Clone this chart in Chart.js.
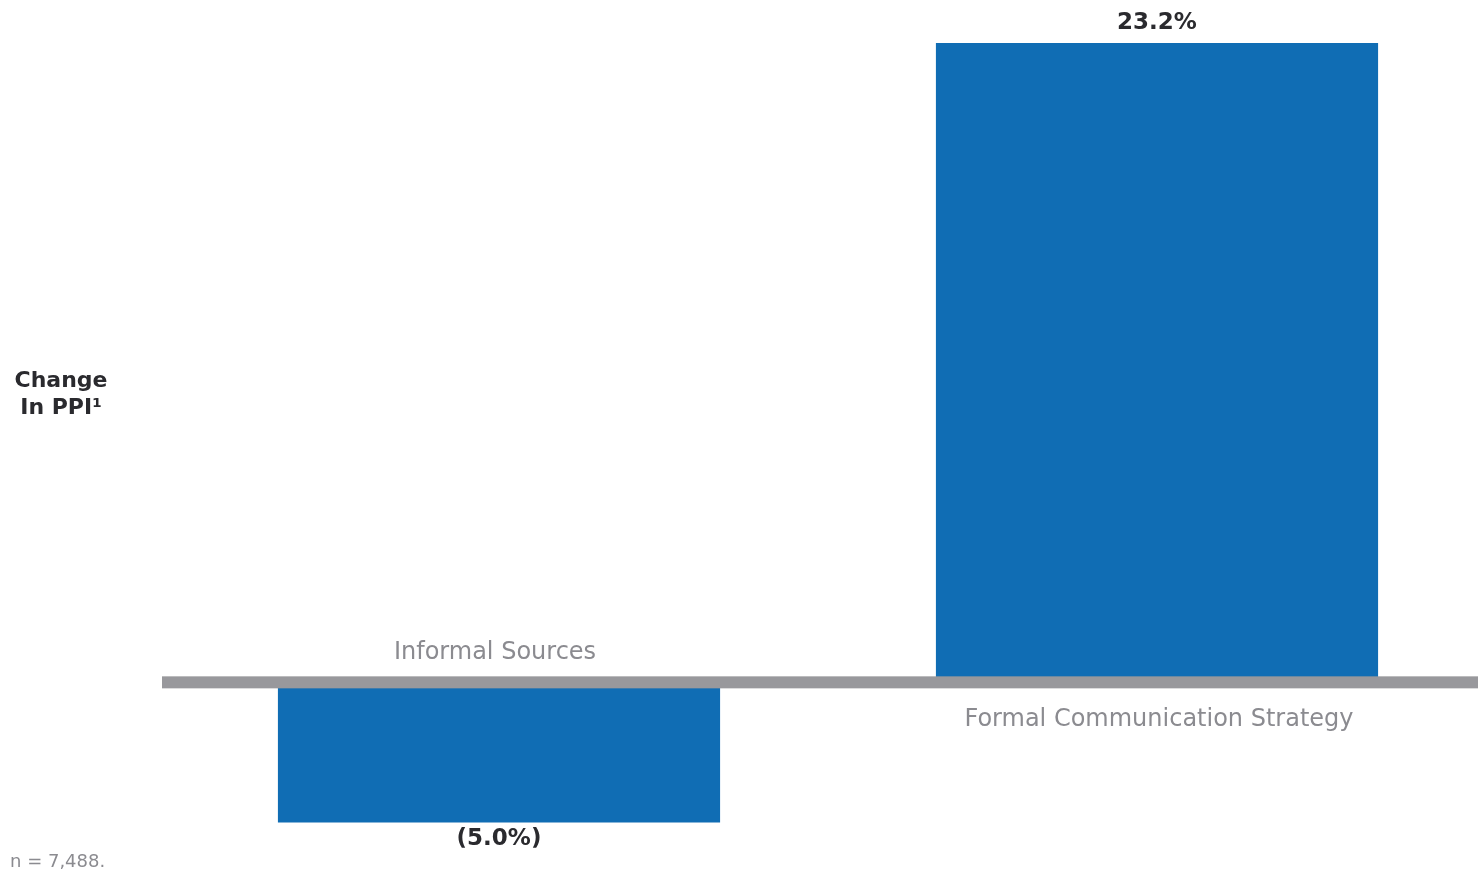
<!DOCTYPE html>
<html>
<head>
<meta charset="utf-8">
<script src="https://cdn.jsdelivr.net/npm/chart.js@4.4.1/dist/chart.umd.min.js"></script>
<style>
  html, body { margin: 0; padding: 0; background: #fff; overflow: hidden; }
  #wrap { position: relative; width: 1478px; height: 871px; overflow: hidden; }
</style>
</head>
<body>
<div id="wrap">
  <canvas id="chart" width="1490" height="871"></canvas>
</div>
<script>
const categories = ['Informal Sources', 'Formal Communication Strategy'];
const changeInPpi = [-5.0, 23.2];
const axisTitle = ['Change', 'In PPI\u00b9'];
const footnote = 'n = 7,488.';

const barColor = '#106db4';
const lineColor = '#98989c';
const catColor = '#8b8b90';

function fmt(v) {
  const s = Math.abs(v).toFixed(1) + '%';
  return v < 0 ? '(' + s + ')' : s;
}

// zero line, category labels, value labels and side text
const annotations = {
  id: 'annotations',
  afterDatasetsDraw(chart) {
    const ctx = chart.ctx;
    const y = chart.scales.y;
    const zero = y.getPixelForValue(0);
    const meta = chart.getDatasetMeta(0);

    ctx.save();
    ctx.fillStyle = lineColor;
    ctx.fillRect(162, zero - 8, chart.width - 162, 12);

    meta.data.forEach((bar, i) => {
      const v = changeInPpi[i];
      ctx.textAlign = 'center';
      ctx.textBaseline = 'middle';

      ctx.font = '24px "DejaVu Sans"';
      ctx.fillStyle = catColor;
      ctx.fillText(categories[i], bar.x + (v < 0 ? -4 : 2), v < 0 ? zero - 32 : zero + 35);

      ctx.font = 'bold 23px "DejaVu Sans"';
      ctx.fillStyle = '#2a2a2e';
      ctx.fillText(fmt(v), bar.x, v < 0 ? bar.y + 16 : bar.y - 20);
    });

    ctx.font = 'bold 22px "DejaVu Sans"';
    ctx.fillStyle = '#2a2a2e';
    ctx.textAlign = 'center';
    ctx.fillText(axisTitle[0], 61, 381);
    ctx.fillText(axisTitle[1], 61, 408);

    ctx.font = '18px "DejaVu Sans"';
    ctx.fillStyle = catColor;
    ctx.textAlign = 'left';
    ctx.fillText(footnote, 10, 862);
    ctx.restore();
  }
};

new Chart(document.getElementById('chart'), {
  type: 'bar',
  data: {
    labels: categories,
    datasets: [{
      data: changeInPpi,
      backgroundColor: barColor,
      borderWidth: 0,
      barPercentage: 0.672,
      categoryPercentage: 1
    }]
  },
  options: {
    responsive: false,
    animation: false,
    devicePixelRatio: 1,
    layout: { padding: { left: 170, right: 4, top: 21, bottom: 7 } },
    plugins: { legend: { display: false }, tooltip: { enabled: false } },
    scales: {
      x: { display: false },
      y: { display: false, min: -6.5, max: 24 }
    }
  },
  plugins: [annotations]
});
</script>
</body>
</html>
